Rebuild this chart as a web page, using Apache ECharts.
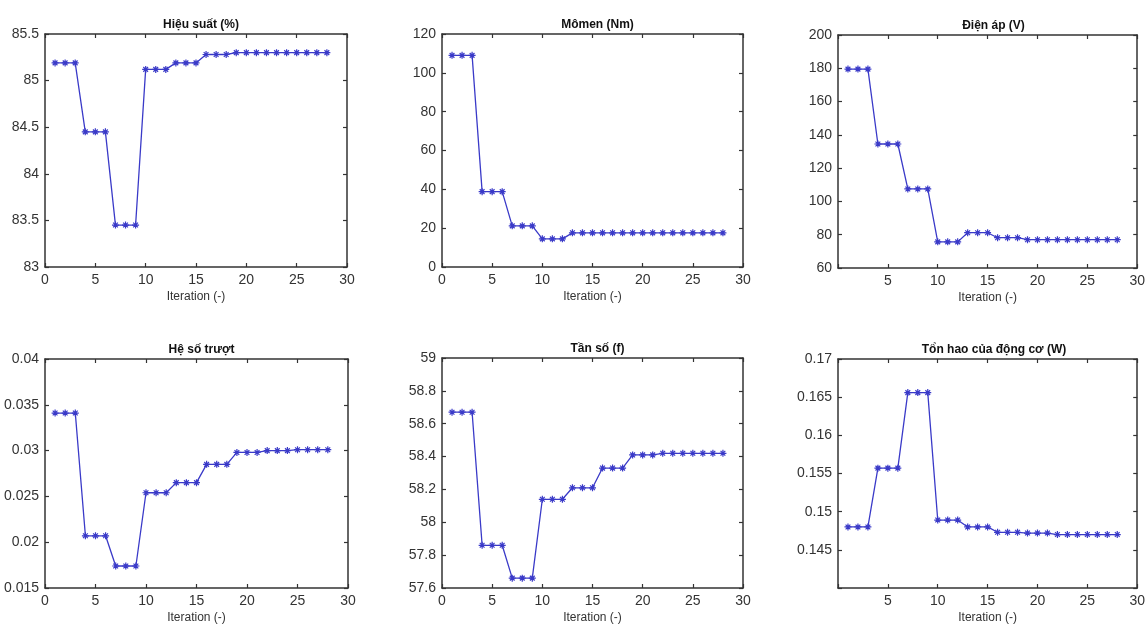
<!DOCTYPE html>
<html>
<head>
<meta charset="utf-8">
<script src="https://cdn.jsdelivr.net/npm/echarts@6/dist/echarts.min.js"></script>
<style>
html,body{margin:0;padding:0;background:#fff;}
#c{width:1148px;height:625px;}
</style>
</head>
<body>
<div id="c"></div>
<script>
const iterations = [1,2,3,4,5,6,7,8,9,10,11,12,13,14,15,16,17,18,19,20,21,22,23,24,25,26,27,28];
const xTicks = [0,5,10,15,20,25,30];

const efficiency = [85.19,85.19,85.19,84.45,84.45,84.45,83.45,83.45,83.45,85.12,85.12,85.12,85.19,85.19,85.19,85.28,85.28,85.28,85.3,85.3,85.3,85.3,85.3,85.3,85.3,85.3,85.3,85.3];
const torque = [109,109,109,38.8,38.8,38.8,21.2,21.2,21.2,14.5,14.5,14.5,17.6,17.6,17.6,17.6,17.6,17.6,17.6,17.6,17.6,17.6,17.6,17.6,17.6,17.6,17.6,17.6];
const voltage = [179.5,179.5,179.5,134.5,134.5,134.5,107.5,107.5,107.5,75.7,75.7,75.7,81.2,81.2,81.2,78.2,78.2,78.2,77,77,77,77,77,77,77,77,77,77];
const slip = [0.0341,0.0341,0.0341,0.0207,0.0207,0.0207,0.0174,0.0174,0.0174,0.0254,0.0254,0.0254,0.0265,0.0265,0.0265,0.0285,0.0285,0.0285,0.0298,0.0298,0.0298,0.0300,0.0300,0.0300,0.0301,0.0301,0.0301,0.0301];
const frequency = [58.67,58.67,58.67,57.86,57.86,57.86,57.66,57.66,57.66,58.14,58.14,58.14,58.21,58.21,58.21,58.33,58.33,58.33,58.41,58.41,58.41,58.42,58.42,58.42,58.42,58.42,58.42,58.42];
const loss = [0.1480,0.1480,0.1480,0.1557,0.1557,0.1557,0.1656,0.1656,0.1656,0.1489,0.1489,0.1489,0.1480,0.1480,0.1480,0.1473,0.1473,0.1473,0.1472,0.1472,0.1472,0.1470,0.1470,0.1470,0.1470,0.1470,0.1470,0.1470];

const titles = ['Hiệu suất (%)','Mômen (Nm)','Điện áp (V)','Hệ số trượt','Tần số (f)','Tổn hao của động cơ (W)'];
const xName = 'Iteration (-)';
const yMins = [83, 0, 60, 0.015, 57.6, 0.14];
const yMaxs = [85.5, 120, 200, 0.04, 59, 0.17];
const yIntervals = [0.5, 20, 20, 0.005, 0.2, 0.005];
const seriesData = [efficiency, torque, voltage, slip, frequency, loss];
const hideX0 = [false,false,true,false,false,true];
const hideYMin = [false,false,false,false,false,true];

const grids = [
  {left:45, top:34, width:302, height:233},
  {left:442, top:34, width:301, height:233},
  {left:838, top:35, width:301, height:233},
  {left:45, top:359, width:303, height:232},
  {left:442, top:358, width:301, height:233},
  {left:838, top:359, width:302, height:232}
];

const FONT = 'Liberation Sans, Arial, sans-serif';
const axisColor = '#333';
const lineColor = '#3a3ac8';
const asterisk = 'path://M5,0L5,10M0,5L10,5M1.6,1.6L8.4,8.4M1.6,8.4L8.4,1.6';

const option = {
  backgroundColor:'#fff',
  animation:false,
  title:[], grid:[], xAxis:[], yAxis:[], series:[]
};

grids.forEach((g,i)=>{
  option.grid.push({left:g.left, top:g.top, width:g.width, height:g.height, containLabel:false});
  option.title.push({
    text:titles[i], left:g.left + g.width/2, top:g.top - 20, textAlign:'center',
    textStyle:{fontFamily:FONT, fontSize:12, fontWeight:'bold', color:'#111'}
  });
  const tickStyle = {inside:true, length:4, lineStyle:{color:axisColor, width:1.2}};
  const lineStyle = {show:true, onZero:false, lineStyle:{color:axisColor, width:1.5}};
  option.xAxis.push({
    gridIndex:i, type:'value', min:0, max:30, interval:5, position:'bottom',
    name:xName, nameLocation:'middle', nameGap:24,
    nameTextStyle:{fontFamily:FONT, fontSize:12, color:'#333'},
    axisLine:lineStyle, axisTick:tickStyle, splitLine:{show:false},
    axisLabel:{fontFamily:FONT, fontSize:14, color:'#333', margin:6,
      formatter:(v)=> (hideX0[i] && v===0) ? '' : String(v)}
  });
  option.xAxis.push({
    gridIndex:i, type:'value', min:0, max:30, interval:5, position:'top',
    axisLine:lineStyle, axisTick:tickStyle, splitLine:{show:false}, axisLabel:{show:false}
  });
  option.yAxis.push({
    gridIndex:i, type:'value', min:yMins[i], max:yMaxs[i], interval:yIntervals[i], position:'left',
    axisLine:lineStyle, axisTick:tickStyle, splitLine:{show:false},
    axisLabel:{fontFamily:FONT, fontSize:14, color:'#333', margin:6,
      formatter:(v)=> (hideYMin[i] && Math.abs(v-yMins[i])<1e-9) ? '' : String(+v.toFixed(4))}
  });
  option.yAxis.push({
    gridIndex:i, type:'value', min:yMins[i], max:yMaxs[i], interval:yIntervals[i], position:'right',
    axisLine:lineStyle, axisTick:tickStyle, splitLine:{show:false}, axisLabel:{show:false}
  });
  option.series.push({
    type:'line', xAxisIndex:2*i, yAxisIndex:2*i,
    data: iterations.map((x,k)=>[x, seriesData[i][k]]),
    symbol:asterisk, symbolSize:7, showSymbol:true,
    lineStyle:{color:lineColor, width:1.3},
    itemStyle:{color:lineColor, borderColor:lineColor, borderWidth:1.2},
    emphasis:{disabled:true}
  });
});

const chart = echarts.init(document.getElementById('c'), null, {renderer:'canvas'});
chart.setOption(option);
</script>
</body>
</html>
